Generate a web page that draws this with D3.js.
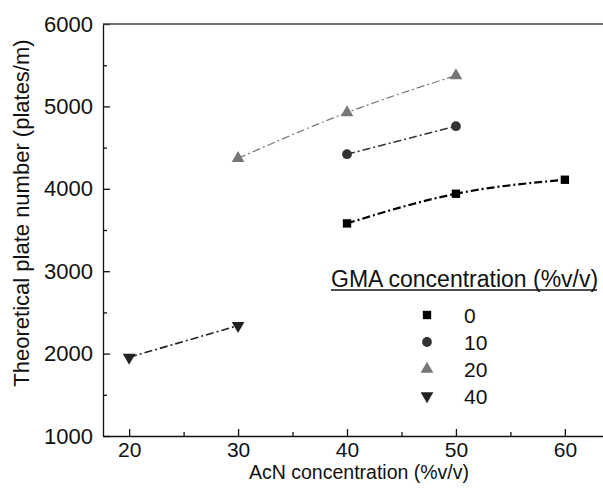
<!DOCTYPE html>
<html lang="en">
  <head>
    <meta charset="utf-8">
    <title>Theoretical plate number vs AcN concentration</title>
    <script src="https://d3js.org/d3.v7.min.js"></script>
    <style>
      body { margin: 0; background: #fff; }
      svg text { font-family: "Liberation Sans", Arial, sans-serif; fill: #111; }
      .axis path, .axis line { stroke: #111; stroke-width: 1.3; }
    </style>
  </head>
  <body>
    <div id="main"></div>
    <script>
      // data
      var acn0 = [40, 50, 60];
      var plates0 = [3580, 3940, 4110];
      var acn10 = [40, 50];
      var plates10 = [4420, 4760];
      var acn20 = [30, 40, 50];
      var plates20 = [4370, 4925, 5375];
      var acn40 = [20, 30];
      var plates40 = [1955, 2340];
      var gmaLabels = ["0", "10", "20", "40"];
      var xTicks = [20, 30, 40, 50, 60];
      var yTicks = [1000, 2000, 3000, 4000, 5000, 6000];

      var width = 603, height = 502;
      var svg = d3.select("#main").append("svg")
        .attr("width", width)
        .attr("height", height);

      var x = d3.scaleLinear().domain([17.6, 63.5]).range([103, 603]);
      var y = d3.scaleLinear().domain([1000, 6000]).range([436, 24]);

      // minor ticks
      svg.append("g").attr("class", "axis")
        .attr("transform", "translate(0,436)")
        .call(d3.axisBottom(x).tickValues([25, 35, 45, 55]).tickSize(-4).tickSizeOuter(0).tickFormat(""))
        .select(".domain").remove();
      svg.append("g").attr("class", "axis")
        .attr("transform", "translate(103,0)")
        .call(d3.axisLeft(y).tickValues([1500, 2500, 3500, 4500, 5500]).tickSize(-4).tickSizeOuter(0).tickFormat(""))
        .select(".domain").remove();

      // major axes
      var xAxis = svg.append("g").attr("class", "axis")
        .attr("transform", "translate(0,436)")
        .call(d3.axisBottom(x).tickValues(xTicks).tickSize(-7).tickSizeOuter(0).tickPadding(6));
      xAxis.selectAll("text").style("font-size", "21px");
      var yAxis = svg.append("g").attr("class", "axis")
        .attr("transform", "translate(103,0)")
        .call(d3.axisLeft(y).tickValues(yTicks).tickFormat(d3.format("d")).tickSize(-7).tickSizeOuter(0).tickPadding(10));
      yAxis.selectAll("text").style("font-size", "22px");

      // top frame line
      svg.append("line")
        .attr("x1", 103).attr("x2", width)
        .attr("y1", y(6000)).attr("y2", y(6000))
        .attr("stroke", "#444").attr("stroke-width", 1.3);

      svg.append("text")
        .attr("x", 359).attr("y", 479)
        .attr("text-anchor", "middle")
        .style("font-size", "19.5px")
        .text("AcN concentration (%v/v)");
      svg.append("text")
        .attr("transform", "translate(29,213) rotate(-90)")
        .attr("text-anchor", "middle")
        .style("font-size", "22px")
        .text("Theoretical plate number (plates/m)");

      var series = [
        { xs: acn0, ys: plates0, shape: d3.symbolSquare, size: 70, color: "#000", lineColor: "#000", lw: 2.2 },
        { xs: acn10, ys: plates10, shape: d3.symbolCircle, size: 75, color: "#333", lineColor: "#333", lw: 1.5 },
        { xs: acn20, ys: plates20, shape: d3.symbolTriangle, size: 70, color: "#777", lineColor: "#777", lw: 1.2 },
        { xs: acn40, ys: plates40, shape: d3.symbolTriangle, size: 70, color: "#222", lineColor: "#222", lw: 1.6, down: true }
      ];

      var line = d3.line()
        .x(function(d) { return x(d[0]); })
        .y(function(d) { return y(d[1]); })
        .curve(d3.curveNatural);

      series.forEach(function(s) {
        var pts = s.xs.map(function(v, i) { return [v, s.ys[i]]; });
        svg.append("path")
          .datum(pts)
          .attr("d", line)
          .attr("fill", "none")
          .attr("stroke", s.lineColor)
          .attr("stroke-width", s.lw)
          .attr("stroke-dasharray", "8,3,2,3");
        svg.selectAll(null).data(pts).enter().append("path")
          .attr("d", d3.symbol().type(s.shape).size(s.size))
          .attr("transform", function(d) {
            return "translate(" + x(d[0]) + "," + y(d[1]) + ")" + (s.down ? " rotate(180)" : "");
          })
          .attr("fill", s.color);
      });

      // legend
      svg.append("text")
        .attr("x", 331).attr("y", 287)
        .style("font-size", "23px")
        .text("GMA concentration (%v/v)");
      svg.append("line")
        .attr("x1", 331).attr("x2", 597)
        .attr("y1", 290).attr("y2", 290)
        .attr("stroke", "#111").attr("stroke-width", 1.3);
      var legend = svg.selectAll(".leg").data(series).enter().append("g")
        .attr("class", "leg")
        .attr("transform", function(d, i) { return "translate(427," + (315 + i * 27) + ")"; });
      legend.append("path")
        .attr("d", function(d) { return d3.symbol().type(d.shape).size(d.size)(); })
        .attr("transform", function(d) { return d.down ? "rotate(180)" : null; })
        .attr("fill", function(d) { return d.color; });
      legend.append("text")
        .attr("x", 37).attr("dy", "0.36em")
        .style("font-size", "21px")
        .text(function(d, i) { return gmaLabels[i]; });
    </script>
  </body>
</html>
